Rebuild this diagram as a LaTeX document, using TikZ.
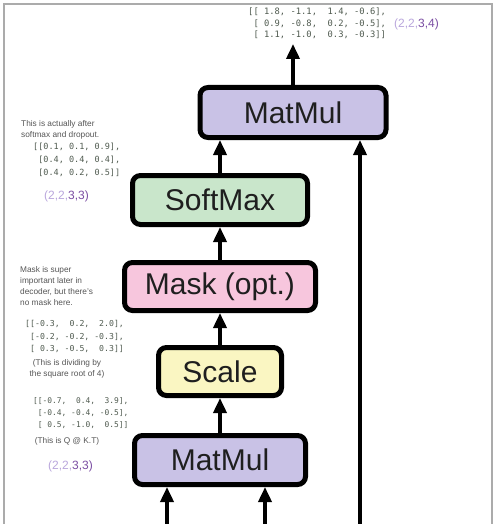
\documentclass[tikz,border=0pt]{standalone}
\usepackage{fontspec}
\setmainfont{Liberation Sans}
\setmonofont{DejaVu Sans Mono}
\usetikzlibrary{arrows.meta}
\definecolor{mmfill}{HTML}{C9C2E6}
\definecolor{smfill}{HTML}{C9E6CB}
\definecolor{mkfill}{HTML}{F7C6DD}
\definecolor{scfill}{HTML}{FAF6C2}
\definecolor{lightp}{HTML}{B9A6DC}
\definecolor{darkp}{HTML}{7B4EA3}
\definecolor{notegray}{HTML}{555555}
\definecolor{matgray}{HTML}{4F5A4F}
\definecolor{framegray}{HTML}{ABABAB}
\tikzset{
  opbox/.style={draw=black, line width=5pt, rounded corners=8pt, inner sep=0pt,
    text=black!88, font=\fontsize{30}{30}\selectfont},
  flow/.style={line width=3.6pt, -{Triangle[length=15pt,width=13pt]}},
  mat/.style={anchor=west, inner sep=0pt, align=left, text=matgray},
  note/.style={anchor=west, inner sep=0pt, align=left, text=notegray,
    font=\fontsize{8.3}{11}\selectfont},
  shp/.style={anchor=west, inner sep=0pt, font=\fontsize{12}{12}\selectfont}
}
\begin{document}
\begin{tikzpicture}[x=1pt,y=-1pt]
\useasboundingbox (0,0) rectangle (500,524);
\draw[framegray, line width=1.5pt] (4,524) -- (4,4) -- (492,4) -- (492,524);

\node[opbox, fill=mmfill, minimum width=186pt, minimum height=50pt] (mm2) at (293,112.5) {MatMul};
\node[opbox, fill=smfill, minimum width=175pt, minimum height=49pt] (soft) at (220,200) {SoftMax};
\node[opbox, fill=mkfill, minimum width=191pt, minimum height=48pt] (mask) at (220,286.5) {Mask (opt.)};
\node[opbox, fill=scfill, minimum width=123pt, minimum height=48pt] (scale) at (220,371.5) {Scale};
\node[opbox, fill=mmfill, minimum width=171pt, minimum height=49pt] (mm1) at (220,460) {MatMul};

\coordinate (out) at (293,44);
\coordinate (q) at (167,524);
\coordinate (k) at (265,524);
\coordinate (v) at (360,524);

\draw[flow] (mm1.north) -- (scale.south);
\draw[flow] (scale.north) -- (mask.south);
\draw[flow] (mask.north) -- (soft.south);
\draw[flow] (soft.north) -- (soft.north |- mm2.south);
\draw[flow] (mm2.north) -- (out);
\draw[flow] (q) -- (q |- mm1.south);
\draw[flow] (k) -- (k |- mm1.south);
\draw[flow] (v) -- (v |- mm2.south);

% top output matrix
\node[mat, font=\fontsize{8.8}{11.5}\ttfamily] (m0) at (248,23.5)
{[[~1.8,~-1.1,~~1.4,~-0.6],\\
~[~0.9,~-0.8,~~0.2,~-0.5],\\
~[~1.1,~-1.0,~~0.3,~-0.3]]};
\node[shp] (s0) at (394,24) {\textcolor{lightp}{(2,2,}\textcolor{darkp}{3,4)}};

% softmax annotations
\node[note] (n1) at (21,129.5) {This is actually after\\softmax and dropout.};
\node[mat, font=\fontsize{8.5}{13}\ttfamily] (m1) at (33,160)
{[[0.1,~0.1,~0.9],\\
~[0.4,~0.4,~0.4],\\
~[0.4,~0.2,~0.5]]};
\node[shp] (s1) at (44,196) {\textcolor{lightp}{(2,2,}\textcolor{darkp}{3,3)}};

% mask annotations
\node[note] (n2) at (20,286.5) {Mask is super\\important later in\\decoder, but there's\\no mask here.};
\node[mat, font=\fontsize{8.2}{12.5}\ttfamily] (m2) at (25,336.5)
{[[-0.3,~~0.2,~~2.0],\\
~[-0.2,~-0.2,~-0.3],\\
~[~0.3,~-0.5,~~0.3]]};
\node[note, anchor=center, align=center] (n3) at (67,368.5) {(This is dividing by\\the square root of 4)};

% matmul annotations
\node[mat, font=\fontsize{7.9}{12}\ttfamily] (m3) at (33,413)
{[[-0.7,~~0.4,~~3.9],\\
~[-0.4,~-0.4,~-0.5],\\
~[~0.5,~-1.0,~~0.5]]};
\node[note, anchor=center, align=center] (n4) at (67,441) {(This is Q @ K.T)};
\node[shp] (s2) at (48,466) {\textcolor{lightp}{(2,2,}\textcolor{darkp}{3,3)}};
\end{tikzpicture}
\end{document}
